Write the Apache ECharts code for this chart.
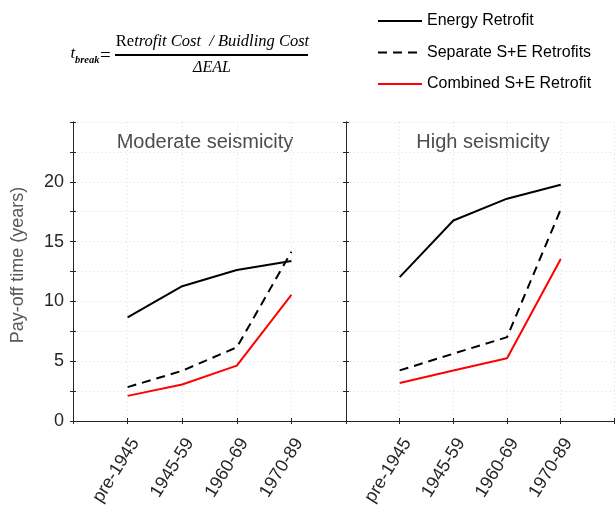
<!DOCTYPE html>
<html><head><meta charset="utf-8">
<script src="https://cdn.jsdelivr.net/npm/echarts@6/dist/echarts.min.js"></script>
<style>html,body{margin:0;padding:0;background:#fff}#c{width:616px;height:510px}</style>
</head><body><div id="c"></div>
<script>
const categories = ['pre-1945', '1945-59', '1960-69', '1970-89'];
const panelTitles = ['Moderate seismicity', 'High seismicity'];
const seriesNames = ['Energy Retrofit', 'Separate S+E Retrofits', 'Combined S+E Retrofit'];
const moderateEnergy   = [8.66, 11.27, 12.62, 13.37];
const moderateSeparate = [2.83, 4.20, 6.16, 14.15];
const moderateCombined = [2.10, 3.05, 4.63, 10.54];
const highEnergy   = [12.03, 16.76, 18.59, 19.76];
const highSeparate = [4.23, 5.63, 7.01, 17.69];
const highCombined = [3.17, 4.23, 5.24, 13.54];
const yAxisName = 'Pay-off time (years)';

const SANS = 'Arial, "Liberation Sans", sans-serif';
const SERIF = '"Times New Roman", "Liberation Serif", serif';
const AX = '#262626';

const panels = [
  [moderateEnergy, moderateSeparate, moderateCombined],
  [highEnergy, highSeparate, highCombined]
];
const styles = [
  {color: '#000', type: 'solid'},
  {color: '#000', type: [9, 6]},
  {color: '#ff0000', type: 'solid'}
];

const grids = [
  {left: 73, top: 122, width: 273, height: 299},
  {left: 346, top: 122, width: 271, height: 299}
];

const xAxes = [], yAxes = [], series = [];
grids.forEach((g, gi) => {
  xAxes.push({
    type: 'value', gridIndex: gi, position: 'bottom', min: 0, max: 5, interval: 1,
    axisLine: {show: true, lineStyle: {color: AX, width: 1}},
    axisTick: {show: true, inside: true, length: 3, lineStyle: {color: AX}},
    axisLabel: {
      show: true, rotate: 58, margin: 14, fontSize: 18, fontFamily: SANS, color: AX,
      verticalAlign: 'top',
      formatter: v => categories[v - 1] || ''
    },
    splitLine: {show: true, lineStyle: {color: '#dcdcdc', type: [1, 3], width: 1}}
  });
  xAxes.push({
    type: 'value', gridIndex: gi, position: 'top', min: 0, max: 5, interval: 1,
    axisLine: {show: true, lineStyle: {color: AX, width: 1}},
    axisTick: {show: true, inside: true, length: 3, lineStyle: {color: AX}},
    axisLabel: {show: false}, splitLine: {show: false}
  });
  yAxes.push({
    type: 'value', gridIndex: gi, position: 'left', min: 0, max: 25, interval: 2.5,
    axisLine: {show: true, lineStyle: {color: AX, width: 1}},
    axisTick: {show: true, inside: true, length: 3, lineStyle: {color: AX}},
    axisLabel: {
      show: gi === 0, margin: 9, fontSize: 18, fontFamily: SANS, color: AX,
      formatter: v => (v < 25 && v % 5 === 0) ? String(v) : ''
    },
    splitLine: {show: true, lineStyle: {color: '#dcdcdc', type: [1, 3], width: 1}}
  });
  yAxes.push({
    type: 'value', gridIndex: gi, position: 'right', min: 0, max: 25, interval: 2.5,
    axisLine: {show: true, lineStyle: {color: AX, width: 1}},
    axisTick: {show: true, inside: true, length: 3, lineStyle: {color: AX}},
    axisLabel: {show: false}, splitLine: {show: false}
  });
  panels[gi].forEach((arr, si) => {
    series.push({
      name: seriesNames[si], type: 'line', xAxisIndex: gi * 2, yAxisIndex: gi * 2,
      data: arr.map((v, i) => [i + 1, v]),
      symbol: 'none', showSymbol: false,
      lineStyle: {color: styles[si].color, type: styles[si].type, width: 2},
      itemStyle: {color: styles[si].color},
      z: 5 + si
    });
  });
});

const graphic = [
  {type: 'text', x: 205, y: 142, style: {text: panelTitles[0], font: '20px ' + SANS, fill: '#4d4d4d', align: 'center', verticalAlign: 'middle'}},
  {type: 'text', x: 483, y: 142, style: {text: panelTitles[1], font: '20px ' + SANS, fill: '#4d4d4d', align: 'center', verticalAlign: 'middle'}},
  {type: 'text', x: 18, y: 265, rotation: Math.PI / 2, style: {text: yAxisName, font: '18px ' + SANS, fill: '#595959', align: 'center', verticalAlign: 'middle'}},
  // formula
  {type: 'text', x: 70.5, y: 54, style: {text: 't', font: 'italic 17px ' + SERIF, fill: '#000', align: 'left', verticalAlign: 'middle'}},
  {type: 'text', x: 75, y: 60.5, style: {text: 'break', font: 'italic bold 10.5px ' + SERIF, fill: '#000', align: 'left', verticalAlign: 'middle'}},
  {type: 'text', x: 100, y: 56, style: {text: '=', font: '19px ' + SERIF, fill: '#000', align: 'left', verticalAlign: 'middle'}},
  {type: 'text', x: 212.5, y: 42, style: {
    text: '{u|Re}{i|trofit Cost  / Buidling Cost}', align: 'center', verticalAlign: 'middle',
    rich: {
      u: {fontSize: 16.5, fontFamily: SERIF, fontStyle: 'normal', fill: '#000'},
      i: {fontSize: 16.5, fontFamily: SERIF, fontStyle: 'italic', fill: '#000'}
    }
  }},
  {type: 'rect', shape: {x: 115, y: 54, width: 193, height: 2}, style: {fill: '#000'}},
  {type: 'text', x: 212, y: 68, style: {text: 'ΔEAL', font: 'italic 16px ' + SERIF, fill: '#000', align: 'center', verticalAlign: 'middle'}}
];

const chart = echarts.init(document.getElementById('c'));
chart.setOption({
  animation: false,
  backgroundColor: '#fff',
  grid: grids,
  xAxis: xAxes,
  yAxis: yAxes,
  legend: {
    data: seriesNames, orient: 'vertical', left: 377, top: 13, padding: 0,
    itemWidth: 44, itemHeight: 16, itemGap: 15.5,
    itemStyle: {opacity: 0, color: 'transparent', borderWidth: 0},
    textStyle: {fontSize: 16, fontFamily: SANS, color: '#000'}
  },
  graphic: graphic,
  series: series
});
</script></body></html>
